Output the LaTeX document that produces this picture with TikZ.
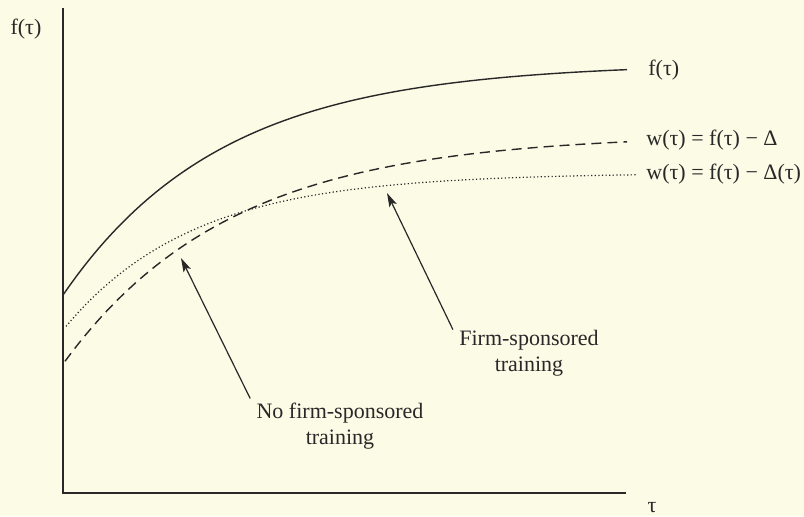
\documentclass[tikz,border=0pt]{standalone}
\usepackage{fontspec}
\setmainfont{Liberation Serif}
\usetikzlibrary{arrows.meta}
\definecolor{paper}{RGB}{252,251,230}
\definecolor{ink}{RGB}{40,40,40}

\begin{document}
\begin{tikzpicture}[x=0.5pt,y=-0.5pt,
    curve/.style={ink,line width=0.7pt},
    lbl/.style={inner sep=0pt,text=ink,font=\fontsize{11}{13}\selectfont},
    pointer/.style={ink,line width=0.6pt,-{Stealth[length=7pt,width=4pt,inset=1.5pt]}}]

      \fill[paper] (0,0) rectangle (804,516);
      \useasboundingbox (0,0) rectangle (804,516);

      \draw[ink,line width=0.8pt] (63,8)--(63,493)--(626,493);

      \draw[curve] plot[domain=0:564,samples=80] ({63+\x},{295-232*(1-exp(-0.0063*\x))});
      \draw[curve,dash pattern=on 5pt off 3pt] plot[domain=2:564,samples=80] ({63+\x},{364-230*(1-exp(-0.006*\x))});
      \draw[curve,line width=0.6pt,dash pattern=on 0.6pt off 1.2pt] plot[domain=3:574,samples=80] ({63+\x},{330-157*(1-exp(-0.0078*\x))});

      \node[lbl] (yl) at (26,29) {f(τ)};
      \node[lbl] (xl) at (652,508) {τ};
      \node[lbl,anchor=west] (fl) at (648,70)  {f(τ)};
      \node[lbl,anchor=west] (wl) at (646,140) {w(τ) = f(τ) − Δ};
      \node[lbl,anchor=west] (vl) at (646,174) {w(τ) = f(τ) − Δ(τ)};

      \node[lbl,align=center] (nofirm) at (340,426) {No firm-sponsored\\training};
      \node[lbl,align=center] (firm)   at (529,353) {Firm-sponsored\\training};

      \coordinate (tipA) at (181,258);
      \coordinate (tipB) at (387,193);
      \draw[pointer] ([xshift=-3pt,yshift=2pt]nofirm.north west) -- (tipA);
      \draw[pointer] ([xshift=-3pt]firm.north west) -- (tipB);
    \end{tikzpicture}
\end{document}
